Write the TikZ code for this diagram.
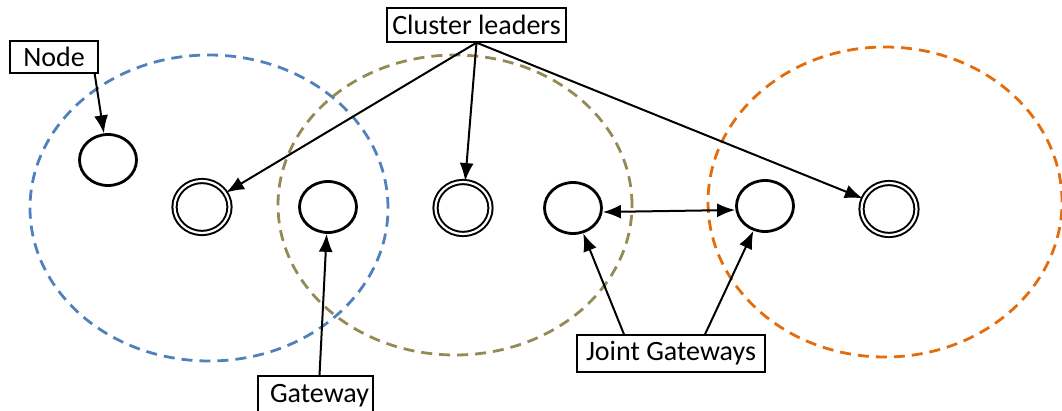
\documentclass[tikz,border=0pt]{standalone}
\usepackage{fontspec}
\setmainfont{Carlito}
\usetikzlibrary{shapes.geometric,arrows.meta}
\definecolor{zoneblue}{RGB}{79,129,189}
\definecolor{zoneolive}{RGB}{148,138,84}
\definecolor{zoneorange}{RGB}{228,108,10}
\begin{document}
\begin{tikzpicture}[x=1pt,y=-1pt,
  sensor/.style={draw,ellipse,line width=2.8pt,minimum width=57pt,minimum height=51pt,inner sep=0pt},
  head/.style={draw,ellipse,line width=2pt,double,double distance=2.2pt,minimum width=55pt,minimum height=52pt,inner sep=0pt},
  tag/.style={draw,line width=1.3pt,inner sep=0pt,font=\fontsize{28}{32}\selectfont},
  pointer/.style={line width=2pt,-{Latex[length=18pt,width=14pt]}},
  twoway/.style={pointer,{Latex[length=18pt,width=14pt]}-{Latex[length=18pt,width=14pt]}},
  zone/.style={line width=2.8pt,dash pattern=on 11pt off 7pt}]
\useasboundingbox (0,0) rectangle (1062,411);

% cluster ranges
\draw[zone,zoneblue] (209,208) ellipse (179pt and 153pt);
\draw[zone,zoneolive] (455,205) ellipse (177pt and 150pt);
\draw[zone,zoneorange] (885,202) ellipse (177pt and 155pt);

% labels
\node[tag,minimum width=88pt,minimum height=32pt] (nodetag) at (54,57) {Node};
\node[tag,minimum width=179pt,minimum height=34pt] (leadtag) at (476.5,25) {Cluster leaders};
\node[tag,minimum width=115pt,minimum height=40pt] (gatetag) at (315.5,396) {\hspace{8pt}Gateway};
\node[tag,minimum width=188pt,minimum height=37pt] (jointtag) at (671,353.5) {Joint Gateways};

% nodes
\node[sensor] (n1) at (108,160) {};
\node[head] (c1) at (202,207) {};
\node[sensor] (g1) at (328,207) {};
\node[head] (c2) at (463,208) {};
\node[sensor] (j1) at (573,208) {};
\node[sensor] (j2) at (765,206) {};
\node[head] (c3) at (889,209) {};

% pointers
\draw[pointer] ([xshift=-4pt]nodetag.south east) -- (n1);
\draw[pointer] (leadtag.south) -- (c1);
\draw[pointer] (leadtag.south) -- (c2);
\draw[pointer] (leadtag.south) -- (c3);
\draw[pointer] ([xshift=4pt]gatetag.north) -- (g1);
\draw[pointer] ([xshift=-47pt]jointtag.north) -- (j1);
\draw[pointer] ([xshift=34pt]jointtag.north) -- (j2);
\draw[twoway] ([yshift=-4pt]j1.east) -- ([yshift=-4pt]j2.west);
\end{tikzpicture}
\end{document}
